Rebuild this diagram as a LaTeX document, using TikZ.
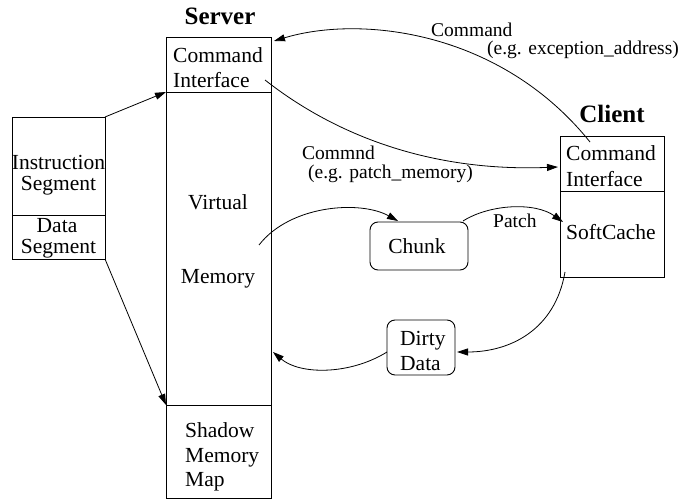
\documentclass[tikz,border=0pt]{standalone}
\usepackage{fontspec}
\setmainfont{Liberation Serif}
\usetikzlibrary{arrows.meta}
\begin{document}
\begin{tikzpicture}[x=1pt,y=-1pt,
  box/.style={draw, line width=0.9pt, inner sep=0pt, outer sep=0pt, anchor=north west},
  rbox/.style={box, rounded corners=8pt},
  txt/.style={inner sep=0pt, font=\fontsize{21.5}{26}\selectfont},
  lbl/.style={inner sep=0pt, font=\fontsize{19.5}{22}\selectfont},
  ttl/.style={inner sep=0pt, font=\fontsize{25}{30}\selectfont\bfseries},
  conn/.style={line width=0.8pt, -{Triangle[length=11pt,width=7pt]}},
]
\useasboundingbox (0,0) rectangle (678,500);

% program image: instruction and data segments
\node[box, minimum width=93pt, minimum height=98pt] (ins) at (12,117) {};
\node[box, minimum width=93pt, minimum height=44pt] (dat) at (12,215) {};
\node[txt, anchor=base] (insT1) at (58.5,170) {Instruction};
\node[txt, anchor=base] (insT2) at (58.5,191) {Segment};
\node[txt, anchor=base] (datT1) at (57,233) {Data};
\node[txt, anchor=base] (datT2) at (58.5,253) {Segment};

% server column
\node[ttl, anchor=base] (srvTitle) at (220,25) {Server};
\node[box, minimum width=105pt, minimum height=55pt] (srvCmd) at (166,37) {};
\node[box, minimum width=105pt, minimum height=313pt] (srvMem) at (166,92) {};
\node[box, minimum width=105pt, minimum height=93pt] (srvShd) at (166,405) {};
\node[txt, anchor=base west] (srvCmdT1) at (173,62.5) {Command};
\node[txt, anchor=base west] (srvCmdT2) at (173,88) {Interface};
\node[txt, anchor=base] (srvMemT1) at (218,210) {Virtual};
\node[txt, anchor=base] (srvMemT2) at (218,283) {Memory};
\node[txt, anchor=base west] (srvShdT1) at (185,437) {Shadow};
\node[txt, anchor=base west] (srvShdT2) at (185,462) {Memory};
\node[txt, anchor=base west] (srvShdT3) at (185,486) {Map};

% client column
\node[ttl, anchor=base] (cliTitle) at (612,123) {Client};
\node[box, minimum width=104pt, minimum height=55pt] (cliCmd) at (560,136) {};
\node[box, minimum width=104pt, minimum height=86pt] (cliSc) at (560,191) {};
\node[txt, anchor=base west] (cliCmdT1) at (566,161) {Command};
\node[txt, anchor=base west] (cliCmdT2) at (566,186) {Interface};
\node[txt, anchor=base west] (cliScT) at (566,240) {SoftCache};

% transferred data
\node[rbox, minimum width=98pt, minimum height=48pt] (chunk) at (370,222) {};
\node[txt, anchor=base] (chunkT) at (417,253) {Chunk};
\node[rbox, minimum width=68pt, minimum height=55pt] (dirty) at (387,320) {};
\node[txt, anchor=base west] (dirtyT1) at (400,345) {Dirty};
\node[txt, anchor=base west] (dirtyT2) at (400,370) {Data};

% connector end points
\coordinate (cliCmdOut) at (590,142);
\coordinate (srvCmdIn) at (274,41);
\coordinate (srvCmdOut) at (265,80);
\coordinate (cliCmdIn) at (558,167);
\coordinate (memOut) at (259,245);
\coordinate (chunkIn) at (398,221);
\coordinate (chunkOut) at (463,221);
\coordinate (scIn) at (563,222);
\coordinate (scOut) at (565,272);
\coordinate (dirtyIn) at (457,352);
\coordinate (dirtyOut) at (387,352);
\coordinate (memIn) at (273,352);

% connectors
\draw[conn] (cliCmdOut) .. controls (500,30) and (360,15) .. (srvCmdIn);
\draw[conn] (srvCmdOut) .. controls (335,135) and (430,172) .. (cliCmdIn);
\draw[conn] (memOut) .. controls (290,205) and (360,200) .. (chunkIn);
\draw[conn] (chunkOut) .. controls (490,204) and (535,202) .. (scIn);
\draw[conn] (scOut) .. controls (555,330) and (510,352) .. (dirtyIn);
\draw[conn] (dirtyOut) .. controls (350,375) and (300,375) .. (memIn);
\draw[conn] (ins.north east) -- (srvMem.north west);
\draw[conn] (dat.south east) -- (srvShd.north west);

% connector labels
\node[lbl, anchor=base west] (lblA1) at (431,37) {Command};
\node[lbl, anchor=base west] (lblA2) at (487,55) {(e.g. exception\_address)};
\node[lbl, anchor=base west] (lblB1) at (302,160) {Commnd};
\node[lbl, anchor=base west] (lblB2) at (308,179) {(e.g. patch\_memory)};
\node[lbl, anchor=base west] (lblC) at (493,228) {Patch};
\end{tikzpicture}
\end{document}
